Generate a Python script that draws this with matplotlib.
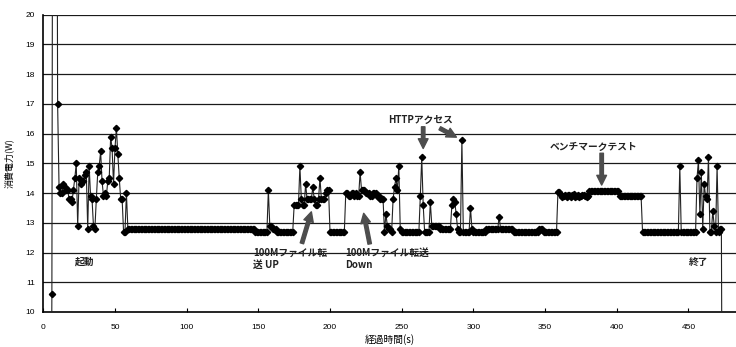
import numpy as np
import matplotlib.pyplot as plt

plt.rcParams['font.family'] = ['Liberation Sans', 'Noto Sans CJK JP', 'DejaVu Sans']

# power draw sampled once a second, starting at t = 5 s
boot = [0.0, 10.6, 40.0, 45.0, 38.0, 17.0,
        14.2, 14.0, 14.0, 14.3, 14.2, 14.1, 14.1, 13.8, 13.8, 13.7,
        14.1, 14.5, 15.0, 12.9, 14.5, 14.3, 14.4, 14.4, 14.6, 14.7,
        12.8, 14.9, 13.9, 13.8, 12.9, 12.8, 13.8, 14.7, 14.9, 15.4,
        14.4, 13.9, 14.0, 13.9, 14.4, 14.5, 15.9, 15.5, 14.3, 15.5,
        16.2, 15.3, 14.5, 13.8, 13.8, 12.7, 12.7, 14.0, 12.8]
idle = [12.8] * 88 + [12.7] * 9 + [14.1, 12.9, 12.9] + [12.8] * 3 + [12.7] * 12
upload = [13.6, 13.6, 13.6, 13.6, 14.9, 13.8, 13.6, 13.6, 14.3, 13.8,
          13.8, 13.8, 13.8, 14.2, 13.8, 13.6, 13.6, 13.8, 14.5, 13.8,
          13.8, 13.8, 14.0, 14.1, 14.1] + [12.7] * 11
download = [14.0, 14.0, 13.9, 13.9, 14.0, 14.0, 13.9, 14.0, 13.9, 13.9,
            14.7, 14.1, 14.1, 14.1, 14.0, 14.0, 14.0, 13.9, 13.9, 14.0,
            14.0, 14.0, 13.9, 13.9, 13.8, 13.8, 13.8,
            12.7, 13.3, 12.9, 12.8, 12.8, 12.7, 13.8, 14.2, 14.5, 14.1,
            14.9, 12.8] + [12.7] * 13
http = ([13.9, 15.2, 13.6, 12.7, 12.7, 12.7, 12.7, 13.7] + [12.9] * 6 + [12.8] * 8
        + [13.6, 13.8, 13.7, 13.3, 12.8, 12.7, 12.7, 15.8] + [12.7] * 5
        + [13.5, 12.8] + [12.7] * 9 + [12.8] * 9 + [13.2] + [12.8] * 9
        + [12.7] * 18 + [12.8] * 3 + [12.7] * 10)
bench = ([14.05, 14.05]
         + [13.92, 13.88, 13.9, 13.95, 13.88, 13.95, 13.92, 13.88, 13.93, 13.96,
            13.88, 13.9, 13.94, 13.88, 13.9, 13.92, 13.95, 13.9, 13.88, 13.9]
         + [14.08] * 21 + [13.9] * 16)
shutdown = ([12.7] * 26 + [14.9] + [12.7] * 11
            + [14.5, 15.1, 13.3, 14.7, 12.8, 14.3, 13.9, 13.8, 15.2, 12.7,
               12.7, 13.4, 12.9, 12.7, 14.9, 12.7, 12.8, 12.8, 0.0])

power = boot + idle + upload + download + http + bench + shutdown
t = 5 + np.arange(len(power))

fig = plt.figure(figsize=(7.36, 3.47), dpi=100)
ax = fig.add_axes([0.0588, 0.1009, 0.9412, 0.8567])

for yv in range(11, 21):
    ax.axhline(yv, color='#1a1a1a', lw=0.9, zorder=1)

ax.plot(t, power, color='#222222', lw=0.8, marker='D', markersize=3.2,
        markerfacecolor='black', markeredgecolor='black', zorder=3)

ax.set_xlim(0, 483.2)
ax.set_ylim(10, 20)
ax.set_xticks(range(0, 451, 50))
ax.set_yticks(range(10, 21))
ax.tick_params(axis='x', direction='in', length=3, width=0.8, pad=9, labelsize=6)
ax.tick_params(axis='y', length=0, pad=6, labelsize=6)
for s in ['top', 'right']:
    ax.spines[s].set_visible(False)
ax.spines['left'].set_linewidth(1.2)
ax.spines['bottom'].set_linewidth(1.2)

ax.set_xlabel('経過時間(s)', fontsize=7, family=['Noto Sans CJK JP'], labelpad=2)
ax.set_ylabel('消費電力(W)', fontsize=6.5, family=['Noto Sans CJK JP'], labelpad=8)

jp = dict(family=['Noto Sans CJK JP'], fontweight='bold', fontsize=7, color='#222222')
ax.text(29, 11.7, '起動', ha='center', va='center', **jp)
ax.text(146.5, 11.78, '100Mファイル転\n送 UP', ha='left', va='center', linespacing=1.3, **jp)
ax.text(210.5, 11.78, '100Mファイル転送\nDown', ha='left', va='center', linespacing=1.3, **jp)
ax.text(240.5, 16.46, 'HTTPアクセス', ha='left', va='center', **jp)
ax.text(353, 15.55, 'ベンチマークテスト', ha='left', va='center', **jp)
ax.text(457, 11.66, '終了', ha='center', va='center', **jp)

arrow = dict(arrowstyle='simple,head_width=0.7,head_length=0.7,tail_width=0.25',
             color='#4d4d4d', mutation_scale=10, shrinkA=0, shrinkB=0)
ax.annotate('', xy=(187, 13.37), xytext=(180.4, 12.31), arrowprops=arrow)
ax.annotate('', xy=(223.5, 13.32), xytext=(227.7, 12.29), arrowprops=arrow)
ax.annotate('', xy=(265, 15.5), xytext=(265, 16.23), arrowprops=arrow)
ax.annotate('', xy=(288.2, 15.88), xytext=(276.6, 16.18), arrowprops=arrow)
ax.annotate('', xy=(389.5, 14.27), xytext=(389.5, 15.34), arrowprops=arrow)

fig.savefig('out.png', dpi=100)
